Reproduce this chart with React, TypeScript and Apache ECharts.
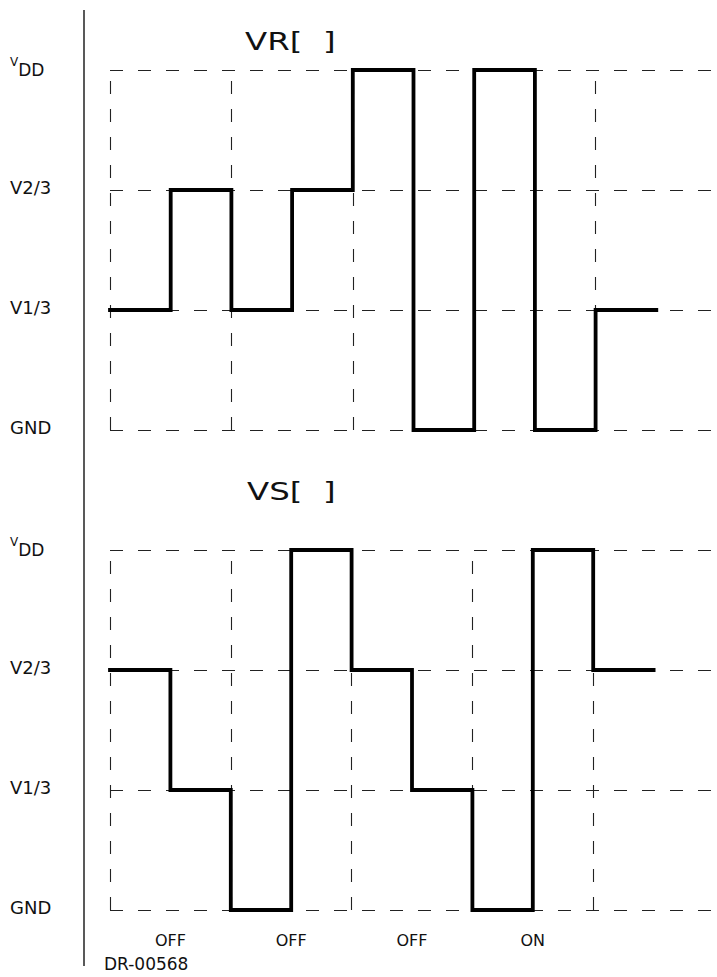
import React, { useEffect, useRef } from "react";
import * as echarts from "echarts";

const levelNames = ["GND", "V1/3", "V2/3", "VDD"];
const stateLabels = ["OFF", "OFF", "OFF", "ON"];
const stateSlots = [1, 3, 5, 7];
const vrLevels = [1, 2, 1, 2, 3, 0, 3, 0, 1];
const vsLevels = [2, 1, 0, 3, 2, 1, 0, 3, 2];
const gridXs = [0, 2, 4, 6, 8];
const titles = ["VR[  ]", "VS[  ]"];
const drawingNo = "DR-00568";

const FONT = "DejaVu Sans";
const INK = "#111";
const DASH = [13, 15];

function steps(levels: number[]) {
  const pts: number[][] = [];
  levels.forEach((v, i) => {
    pts.push([i, v]);
    pts.push([i + 1, v]);
  });
  return pts;
}

function yAxisFor(gridIndex: number) {
  return {
    gridIndex,
    type: "value",
    min: 0,
    max: 3,
    interval: 1,
    axisLine: { show: false },
    axisTick: { show: false },
    splitLine: { show: true, lineStyle: { type: DASH, color: "#222", width: 1.1 } },
    axisLabel: {
      align: "left",
      margin: 100,
      fontFamily: FONT,
      fontSize: 18,
      color: INK,
      padding: [0, 0, 6, 0],
      formatter: (v: number) => (v === 3 ? "{v|V}{dd|DD}" : levelNames[v]),
      rich: {
        v: { fontFamily: FONT, fontSize: 12, color: INK, verticalAlign: "top", lineHeight: 22 },
        dd: { fontFamily: FONT, fontSize: 17, color: INK, verticalAlign: "bottom", lineHeight: 22 },
      },
    },
  };
}

function seriesFor(idx: number, levels: number[]) {
  return {
    type: "line",
    xAxisIndex: idx,
    yAxisIndex: idx,
    data: steps(levels),
    symbol: "none",
    lineStyle: { color: "#000", width: 3.8, join: "miter", cap: "square" },
    z: 5,
    markLine: {
      silent: true,
      symbol: ["none", "none"],
      label: { show: false },
      lineStyle: { type: DASH, color: "#222", width: 1.1 },
      data: gridXs.map((x) => ({ xAxis: x })),
      z: 1,
    },
  };
}

export default function App() {
  const ref = useRef<HTMLDivElement>(null);
  useEffect(() => {
    if (!ref.current) return;
    const chart = echarts.init(ref.current, null, { renderer: "svg" });
    chart.setOption({
      animation: false,
      backgroundColor: "#fff",
      grid: [
        { left: 110, right: 0, top: 70, height: 360 },
        { left: 110, right: 0, top: 550, height: 360 },
      ],
      xAxis: [
        { gridIndex: 0, type: "value", min: 0, max: 10, show: false },
        {
          gridIndex: 1,
          type: "value",
          min: 0,
          max: 10,
          interval: 1,
          axisLine: { show: false },
          axisTick: { show: false },
          splitLine: { show: false },
          axisLabel: {
            margin: 22,
            fontFamily: FONT,
            fontSize: 16,
            color: INK,
            formatter: (v: number) => {
              const k = stateSlots.indexOf(v);
              return k >= 0 ? stateLabels[k] : "";
            },
          },
        },
      ],
      yAxis: [yAxisFor(0), yAxisFor(1)],
      series: [seriesFor(0, vrLevels), seriesFor(1, vsLevels)],
      graphic: [
        {
          type: "line",
          shape: { x1: 84, y1: 10, x2: 84, y2: 966 },
          style: { stroke: "#222", lineWidth: 1.5 },
        },
        {
          type: "text",
          x: 245,
          y: 42,
          scaleX: 1.35,
          style: { text: titles[0], font: `24px '${FONT}'`, fill: INK, textVerticalAlign: "middle" },
        },
        {
          type: "text",
          x: 247,
          y: 492,
          scaleX: 1.35,
          style: { text: titles[1], font: `24px '${FONT}'`, fill: INK, textVerticalAlign: "middle" },
        },
        {
          type: "text",
          x: 104,
          y: 964,
          style: { text: drawingNo, font: `17px '${FONT}'`, fill: INK, textVerticalAlign: "middle" },
        },
      ],
    });
    return () => chart.dispose();
  }, []);
  return <div ref={ref} style={{ position: "absolute", left: 0, top: 0, width: 717, height: 977 }} />;
}
